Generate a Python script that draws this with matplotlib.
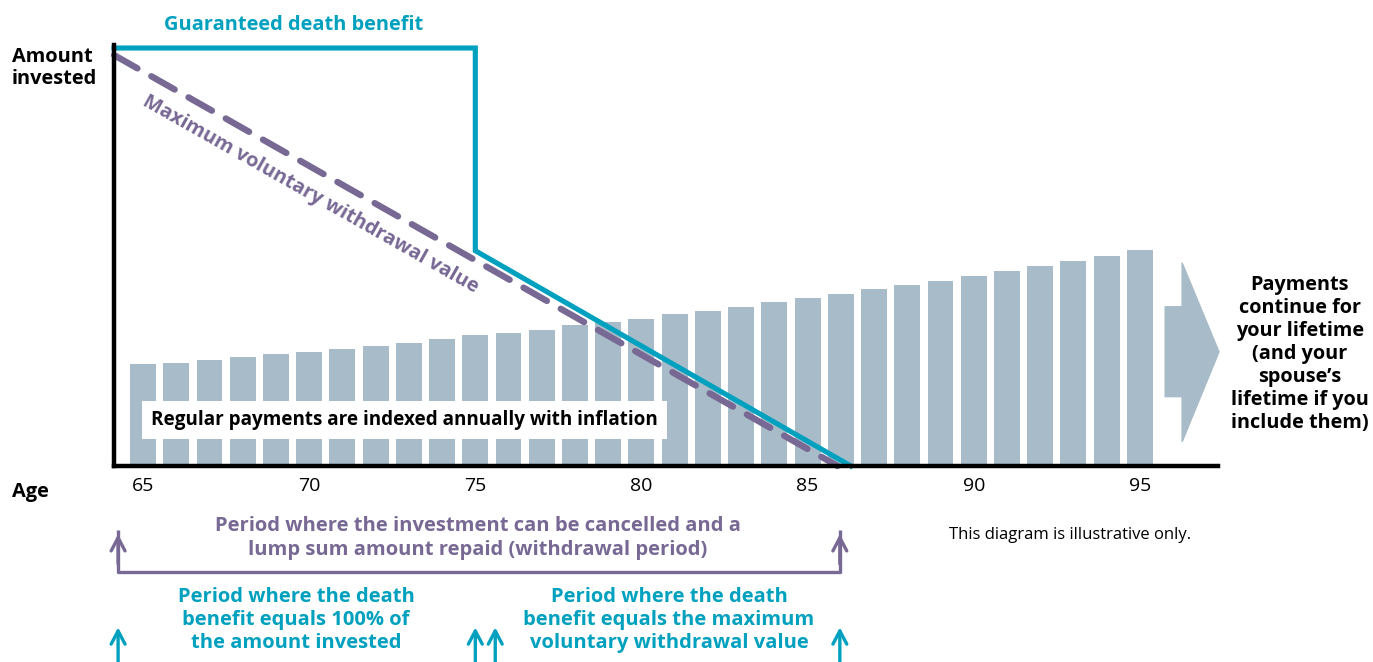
import matplotlib
matplotlib.use('Agg')
import matplotlib.pyplot as plt
from matplotlib.patches import Polygon

plt.rcParams['font.family'] = ['Open Sans', 'DejaVu Sans']

# ---------------- data (amount invested = 100) ----------------
ages = list(range(65, 96))
payments = [24.3, 24.7, 25.4, 26.0, 26.7, 27.3, 28.1, 28.8, 29.5, 30.5,
            31.3, 31.9, 32.6, 33.7, 34.4, 35.2, 36.4, 37.1, 38.1, 39.2,
            40.2, 41.2, 42.3, 43.3, 44.3, 45.4, 46.7, 47.8, 49.1, 50.2, 51.6]

death_age = [64.13, 75.0, 75.0, 86.3]
death_val = [100.0, 100.0, 51.5, 0.0]

withdraw_age = [64.13, 85.9]
withdraw_val = [98.3, 0.0]

age_ticks = [65, 70, 75, 80, 85, 90, 95]

# arrow shape on the right (age, value)
arrow_x = [95.76, 96.27, 96.27, 97.38, 96.27, 96.27, 95.76]
arrow_y = [38.1, 38.1, 48.6, 27.3, 5.8, 16.6, 16.6]

TEAL = '#00A0BF'
PURPLE = '#776894'
BARC = '#A7BBC8'

W, H = 1373, 662

def fx(px):
    return px / W

def fy(py):
    return 1 - py / H

fig = plt.figure(figsize=(W / 100, H / 100), dpi=100)
ax = fig.add_axes([fx(114), fy(466), fx(1218) - fx(114), fy(45) - fy(466)])
ax.set_xlim(64.127, 97.35)
ax.set_ylim(0, 100.72)

ax.bar(ages, payments, width=0.78, color=BARC, zorder=1)
ax.add_patch(Polygon(list(zip(arrow_x, arrow_y)), closed=True, color=BARC,
                     clip_on=False, zorder=1))

ax.plot(withdraw_age, withdraw_val, '--', color=PURPLE, linewidth=4.6,
        dashes=(4.2, 2.5), dash_capstyle='round', clip_on=False, zorder=3)
ax.plot(death_age, death_val, '-', color=TEAL, linewidth=3.7,
        solid_joinstyle='miter', clip_on=False, zorder=4)

for s in ['top', 'right']:
    ax.spines[s].set_visible(False)
ax.spines['left'].set_linewidth(3.2)
ax.spines['bottom'].set_linewidth(3.2)
ax.spines['left'].set_zorder(5)
ax.spines['bottom'].set_zorder(5)
ax.set_yticks([])
ax.set_xticks(age_ticks)
ax.set_xticklabels([str(a) for a in age_ticks], fontsize=14)
ax.tick_params(axis='x', length=0, pad=8)

bold = dict(fontweight='bold')

fig.text(fx(294), fy(25), 'Guaranteed death benefit', color=TEAL, fontsize=14.4,
         ha='center', va='center', **bold)
fig.text(fx(12), fy(68), 'Amount\ninvested', color='black', fontsize=14.4,
         ha='left', va='center', linespacing=1.2, **bold)
fig.text(fx(12), fy(492), 'Age', color='black', fontsize=14.4,
         ha='left', va='center', **bold)
fig.text(fx(310), fy(195), 'Maximum voluntary withdrawal value', color=PURPLE,
         fontsize=14.4, rotation=-29.5, rotation_mode='anchor',
         ha='center', va='center', **bold)
fig.text(fx(151), fy(420), 'Regular payments are indexed annually with inflation',
         color='black', fontsize=13.6, ha='left', va='center', zorder=6,
         bbox=dict(boxstyle='square,pad=0.5', fc='white', ec='none'), **bold)
fig.text(fx(1300), fy(354),
         'Payments\ncontinue for\nyour lifetime\n(and your\nspouse\u2019s\nlifetime if you\ninclude them)',
         color='black', fontsize=14.3, ha='center', va='center',
         linespacing=1.2, **bold)

fig.text(fx(478), fy(538),
         'Period where the investment can be cancelled and a\nlump sum amount repaid (withdrawal period)',
         color=PURPLE, fontsize=14.5, ha='center', va='center', linespacing=1.24, **bold)
fig.text(fx(296), fy(620),
         'Period where the death\nbenefit equals 100% of\nthe amount invested',
         color=TEAL, fontsize=14.5, ha='center', va='center', linespacing=1.2, **bold)
fig.text(fx(669), fy(620),
         'Period where the death\nbenefit equals the maximum\nvoluntary withdrawal value',
         color=TEAL, fontsize=14.5, ha='center', va='center', linespacing=1.2, **bold)
fig.text(fx(949), fy(535), 'This diagram is illustrative only.', color='black',
         fontsize=12, ha='left', va='center')

# ---------------- period arrows below the axis ----------------
arrow_kw = dict(arrowstyle='->,head_length=0.95,head_width=0.5', linewidth=2.4,
                shrinkA=0, shrinkB=0)

# withdrawal period bracket
y_top, y_base = -16.3, -25.4
ax.plot([64.25, 64.25, 85.97, 85.97], [y_top + 1, y_base, y_base, y_top + 1],
        color=PURPLE, linewidth=2.4, clip_on=False, solid_capstyle='butt')
for xa in [64.25, 85.97]:
    ax.annotate('', xy=(xa, y_top), xytext=(xa, y_base + 2), xycoords='data',
                arrowprops=dict(color=PURPLE, **arrow_kw), annotation_clip=False)

# death benefit periods
for xa in [64.25, 75.0, 75.6, 85.97]:
    ax.annotate('', xy=(xa, -38.6), xytext=(xa, -47.5), xycoords='data',
                arrowprops=dict(color=TEAL, **arrow_kw), annotation_clip=False)

fig.savefig('out.png', dpi=100)
